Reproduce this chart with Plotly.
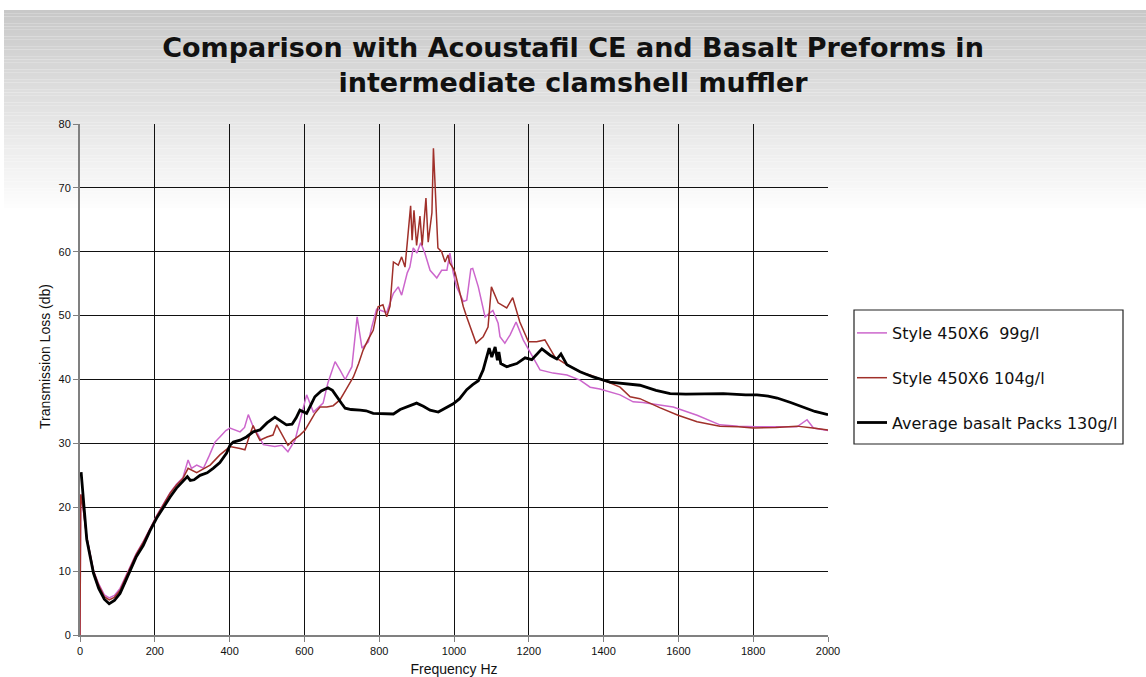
import plotly.graph_objects as go

# ---------------- data ----------------
black_freq = [3, 8, 18, 36, 50, 65, 78, 92, 107, 120, 134, 150, 169, 187, 205, 223, 241, 258, 275, 287,
              295, 305, 321, 340, 356, 374, 392, 401, 410, 428, 445, 463, 481, 500, 521, 540, 552, 567,
              578, 588, 606, 617, 628, 645, 663, 675, 686, 700, 709, 725, 749, 765, 784, 802, 820, 838,
              856, 880, 900, 918, 936, 958, 975, 998, 1015, 1034, 1050, 1065, 1078, 1087, 1094, 1101,
              1110, 1116, 1120, 1125, 1141, 1168, 1190, 1208, 1222, 1235, 1257, 1275, 1286, 1302, 1337,
              1372, 1417, 1462, 1497, 1540, 1578, 1620, 1680, 1720, 1780, 1810, 1840, 1864, 1900, 1934,
              1965, 2000]
black_tl = [25.5, 22, 15, 9.7, 7.3, 5.6, 4.9, 5.4, 6.5, 8.2, 10.2, 12.2, 14, 16.3, 18.3, 20, 21.6, 23, 24, 24.8,
            24.2, 24.3, 25, 25.4, 26.1, 27, 28.5, 29.7, 30.2, 30.5, 31, 31.8, 32.1, 33.2, 34.1, 33.4, 32.9, 33,
            34, 35.2, 34.7, 36, 37.3, 38.2, 38.7, 38.3, 37.3, 36.2, 35.5, 35.3, 35.2, 35.1, 34.7, 34.7, 34.6, 34.6,
            35.3, 35.8, 36.3, 35.8, 35.2, 34.9, 35.5, 36.2, 37, 38.4, 39.2, 39.8, 41.5, 43.5, 44.9, 43.5,
            45.1, 43, 44.3, 42.5, 42, 42.5, 43.4, 43.1, 44, 44.8, 43.8, 43.2, 44, 42.3, 41.2,
            40.4, 39.6, 39.3, 39.1, 38.3, 37.8, 37.7, 37.7, 37.8, 37.6, 37.6, 37.4, 37.1, 36.4, 35.7,
            35, 34.5]

red_freq = [0, 2, 8, 18, 36, 50, 65, 78, 92, 107, 120, 134, 150, 169, 187, 205, 223, 241, 258, 275, 289,
            300, 312, 330, 348, 374, 401, 428, 441, 452, 463, 472, 481, 500, 516, 526, 540, 556, 570, 588,
            602, 615, 628, 642, 660, 677, 695, 712, 731, 745, 757, 770, 784, 797, 810, 820, 829, 838, 851,
            860, 869, 875, 884, 888, 893, 900, 909, 915, 925, 931, 941, 945, 952, 957, 967, 976, 984, 989,
            998, 1003, 1016, 1025, 1034, 1043, 1059, 1078, 1091, 1100, 1118, 1141, 1157, 1176, 1199, 1221,
            1243, 1270, 1302, 1346, 1364, 1399, 1444, 1471, 1497, 1550, 1599, 1650, 1711, 1760, 1800,
            1860, 1917, 1960, 2000]
red_tl = [0, 22, 20, 15.3, 10, 7.8, 6, 5.5, 5.9, 7, 8.7, 10.6, 12.6, 14.5, 16.6, 18.6, 20.4, 22.2, 23.5, 24.5, 26.1,
          25.8, 25.4, 26, 26.6, 28.2, 29.5, 29.2, 29, 31, 32.8, 31.5, 30.5, 31, 31.3, 32.9, 31.3, 29.7, 30.5, 31.3,
          32.1, 33.5, 34.7, 35.7, 35.7, 35.9, 36.8, 38.5, 40.4, 42.5, 44.6, 46.2, 47.7, 51.4, 51.7, 49.8, 51.5, 58.4, 57.9,
          59.2, 57.6, 61.4, 67.2, 61.8, 66.5, 61, 65.6, 61, 68.4, 61.5, 66.1, 76.2, 66.8, 60.6, 60, 58.4, 59.5, 58.2,
          57.4, 56.7, 53.5, 51.4, 49.8, 48.2, 45.7, 46.7, 48.2, 54.5, 52, 51.2, 52.8, 49, 45.9, 45.9,
          46.2, 43.5, 42.3, 41, 40.7, 39.9, 38.8, 37.3, 37, 35.6, 34.4, 33.4, 32.7, 32.6, 32.4,
          32.5, 32.7, 32.4, 32.1]

pink_freq = [0, 2, 8, 18, 36, 50, 65, 78, 92, 107, 120, 134, 150, 169, 187, 205, 223, 241, 258, 275, 289,
             298, 312, 330, 345, 361, 374, 390, 401, 428, 440, 450, 463, 475, 490, 505, 521, 540, 556, 575,
             593, 606, 624, 650, 663, 682, 695, 709, 727, 741, 754, 771, 780, 793, 805, 820, 838, 851, 860,
             875, 882, 891, 901, 911, 922, 936, 954, 963, 967, 981, 989, 998, 1007, 1025, 1034, 1045, 1050,
             1065, 1083, 1104, 1118, 1123, 1136, 1150, 1166, 1185, 1208, 1230, 1265, 1302, 1337, 1364,
             1390, 1444, 1479, 1505, 1550, 1586, 1650, 1711, 1760, 1810, 1870, 1917, 1944, 1961, 2000]
pink_tl = [0, 22, 20, 15.4, 10.1, 8, 6.3, 5.8, 6.2, 7.3, 8.9, 10.8, 12.7, 14.6, 16.7, 18.7, 20.5, 22.3, 23.6, 24.6, 27.4,
           26.1, 26.6, 26.1, 28, 30.2, 31, 32, 32.4, 31.8, 32.5, 34.5, 32.6, 31.5, 29.8, 29.6, 29.5, 29.7, 28.7, 30.5,
           34.7, 37.6, 34.9, 36.3, 39.5, 42.8, 41.5, 40, 42, 49.8, 44.9, 45.9, 48.2, 51, 50.8, 50.5, 53.5, 54.5, 53.2,
           56.7, 57.6, 60.6, 59.8, 61.4, 59.8, 57.1, 55.9, 56.8, 57.1, 57.1, 59.8, 56.7, 54.5, 52.2, 52.4, 57.3, 57.4,
           54.5, 49.8, 50.8, 48.8, 46.7, 45.7, 47, 49, 46.2, 43.8, 41.5, 41, 40.7, 39.9, 38.8,
           38.5, 37.6, 36.5, 36.4, 36, 35.7, 34.4, 32.9, 32.7, 32.6, 32.6, 32.6, 33.7, 32.4, 32]

series_names = ["Style 450X6 \u00a099g/l", "Style 450X6 104g/l", "Average basalt Packs 130g/l"]
x_ticks = [0, 200, 400, 600, 800, 1000, 1200, 1400, 1600, 1800, 2000]
y_ticks = [0, 10, 20, 30, 40, 50, 60, 70, 80]

# ---------------- figure ----------------
W, H = 1146, 677
L, R, T, B = 80, 318, 124, 42
pw, ph = W - L - R, H - T - B


def px_x(p):
    return (p - L) / pw


def px_y(p):
    return (H - B - p) / ph


fig = go.Figure()
fig.add_trace(go.Scatter(x=pink_freq, y=pink_tl, mode="lines", name=series_names[0],
                         line=dict(color="#CC66CC", width=1.5), legendgroup="a"))
fig.add_trace(go.Scatter(x=red_freq, y=red_tl, mode="lines", name=series_names[1],
                         line=dict(color="#A0302A", width=1.5), legendgroup="b"))
fig.add_trace(go.Scatter(x=black_freq, y=black_tl, mode="lines", name=series_names[2],
                         line=dict(color="#000000", width=2.8), legendgroup="c"))

# background gradient band at the top of the page
shapes = []
top, bot = 10, 208
n = 60
for i in range(n):
    y0 = top + (bot - top) * i / n
    y1 = top + (bot - top) * (i + 1) / n
    g = int(round(200 + (253 - 200) * (i + 0.5) / n))
    col = f"rgb({g},{g},{g})"
    shapes.append(dict(type="rect", xref="paper", yref="paper", layer="below",
                       x0=px_x(4), x1=px_x(W), y0=px_y(y1), y1=px_y(y0),
                       fillcolor=col, line=dict(width=0)))
# legend box
shapes.append(dict(type="rect", xref="paper", yref="paper", layer="above",
                   x0=px_x(854), x1=px_x(1123), y0=px_y(444), y1=px_y(310),
                   fillcolor="rgba(0,0,0,0)", line=dict(color="#222222", width=1.2)))

fig.update_layout(
    width=W, height=H,
    margin=dict(l=L, r=R, t=T, b=B, autoexpand=False),
    paper_bgcolor="white", plot_bgcolor="rgba(0,0,0,0)",
    font=dict(family="Liberation Sans, Arial, sans-serif", color="#111111"),
    title=dict(text="<b>Comparison with Acoustafil CE and Basalt Preforms in<br>intermediate clamshell muffler</b>",
               x=0.5, xref="container", xanchor="center",
               y=1 - 57 / H, yref="container", yanchor="top",
               font=dict(size=27, color="#111111", family="DejaVu Sans, sans-serif")),
    xaxis=dict(range=[0, 2000], tickvals=x_ticks, ticks="outside", ticklen=5, tickcolor="#808080",
               showline=True, linecolor="#808080", linewidth=2, showgrid=True, gridcolor="#111111",
               gridwidth=1.2, zeroline=False, tickfont=dict(size=11),
               title=dict(text="Frequency Hz", font=dict(size=14), standoff=8)),
    yaxis=dict(range=[0, 80], tickvals=y_ticks, ticks="outside", ticklen=5, tickcolor="#808080",
               showline=True, linecolor="#808080", linewidth=2, showgrid=True, gridcolor="#111111",
               gridwidth=1.2, zeroline=False, tickfont=dict(size=11)),
    annotations=[dict(text="Transmission Loss (db)", textangle=-90, xref="paper", yref="paper",
                      x=px_x(45), y=px_y(357), showarrow=False, xanchor="center", yanchor="middle",
                      font=dict(size=14, color="#111111"))],
    legend=dict(x=px_x(852), y=px_y(316), xanchor="left", yanchor="top",
                bgcolor="rgba(0,0,0,0)", borderwidth=0, font=dict(size=16, color="#111111",
                                                                family="DejaVu Sans, sans-serif"),
                traceorder="grouped", tracegroupgap=21, itemwidth=30),
    shapes=shapes,
    showlegend=True,
)

fig.write_html("out.html", config={"displayModeBar": False},
               post_script="document.body.style.margin='0';document.body.style.overflow='hidden';")
